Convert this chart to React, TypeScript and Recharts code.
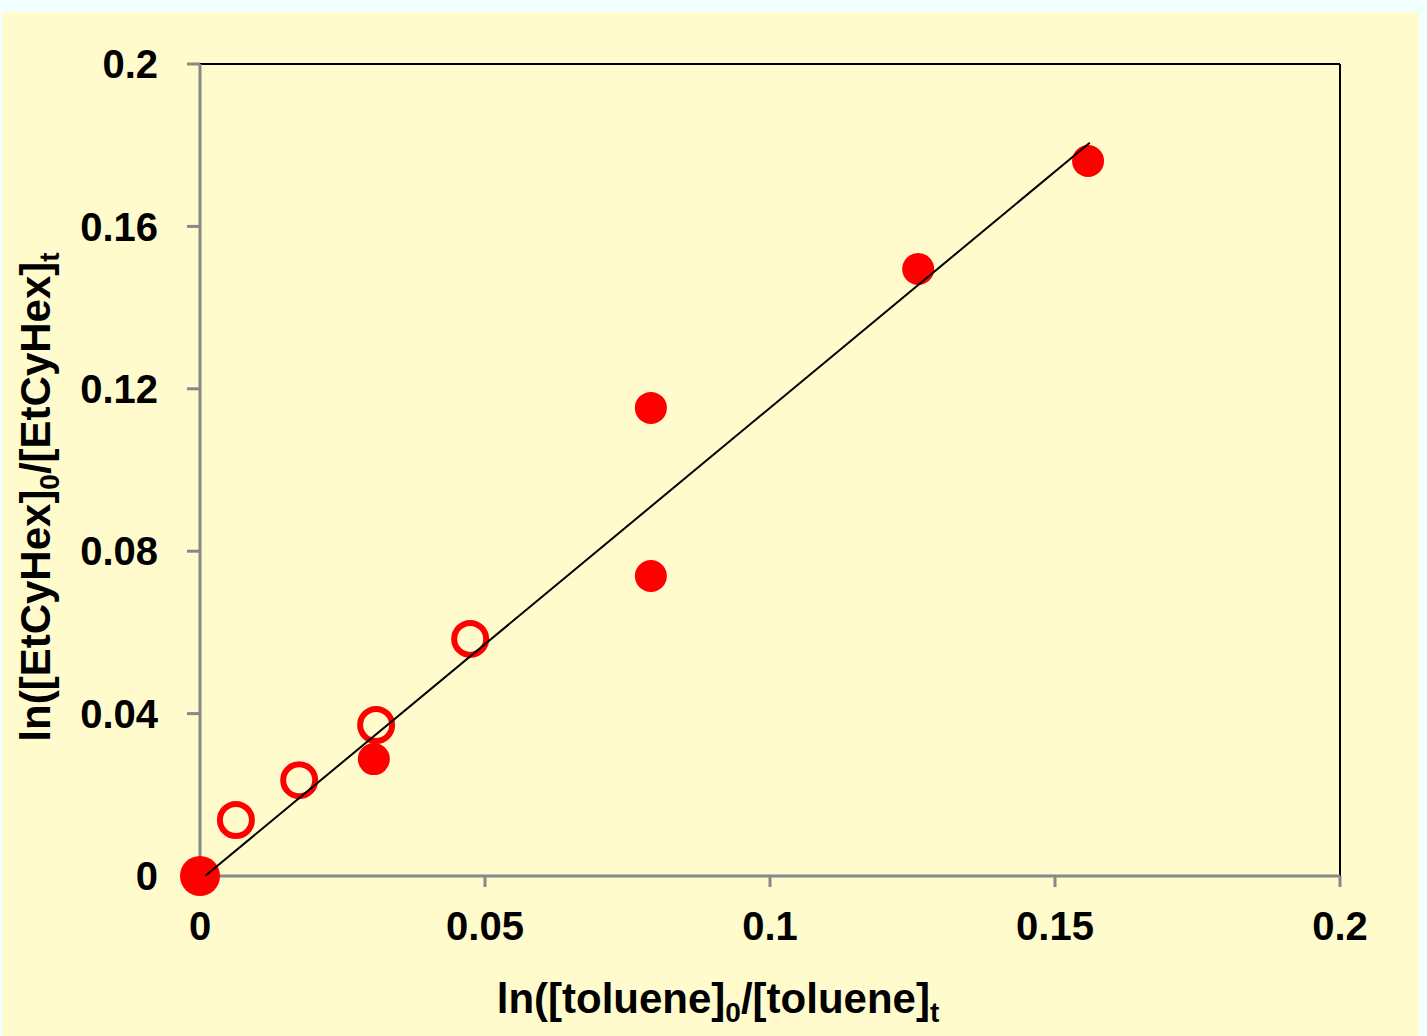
import React from 'react'
import { ScatterChart, Scatter, XAxis, YAxis, ReferenceLine } from 'recharts'

// filled circles (solid red)
const filledX = [0.0305, 0.0791, 0.0791, 0.126, 0.1558]
const filledY = [0.0288, 0.1153, 0.0739, 0.1495, 0.1761]

// the origin point, drawn larger
const originX = [0]
const originY = [0]

// open circles (red rings)
const openX = [0.0063, 0.0174, 0.0309, 0.0474]
const openY = [0.0138, 0.0236, 0.0372, 0.0584]

// linear fit, drawn between its two end points
const trendX = [0.001, 0.1561]
const trendY = [0.0001, 0.1806]

const xTicks = [0, 0.05, 0.1, 0.15, 0.2]
const yTicks = [0, 0.04, 0.08, 0.12, 0.16, 0.2]

const zip = (xs: number[], ys: number[]) => xs.map((x, i) => ({ x, y: ys[i] }))

const filledData = zip(filledX, filledY)
const originData = zip(originX, originY)
const openData = zip(openX, openY)
const trendData = zip(trendX, trendY)

const RED = '#FF0000'
const AXIS = '#888888'
const FONT = '"Liberation Sans", Arial, sans-serif'

const FilledDot = (props: any) => <circle cx={props.cx} cy={props.cy} r={16} fill={RED} />
const OriginDot = (props: any) => <circle cx={props.cx} cy={props.cy} r={20} fill={RED} />
const OpenDot = (props: any) => (
  <circle cx={props.cx} cy={props.cy} r={16} fill="none" stroke={RED} strokeWidth={6} />
)
const NoDot = () => null

function XTitle(props: any) {
  const vb = props.viewBox || {}
  const cx = vb.x + vb.width / 2 - 52
  const y = vb.y + 137
  return (
    <text x={cx} y={y} textAnchor="middle" fontFamily={FONT} fontWeight="bold" fontSize={42} fill="#000">
      <tspan>ln([toluene]</tspan>
      <tspan dy={9} fontSize={28}>0</tspan>
      <tspan dy={-9}>/[toluene]</tspan>
      <tspan dy={9} fontSize={28}>t</tspan>
    </text>
  )
}

function YTitle(props: any) {
  const vb = props.viewBox || {}
  const x = vb.x + 48
  const cy = vb.y + vb.height / 2 + 27
  return (
    <text
      x={x}
      y={cy}
      transform={`rotate(-90 ${x} ${cy})`}
      textAnchor="middle"
      fontFamily={FONT}
      fontWeight="bold"
      fontSize={42}
      fill="#000"
    >
      <tspan>ln([EtCyHex]</tspan>
      <tspan dy={9} fontSize={28}>0</tspan>
      <tspan dy={-9}>/[EtCyHex]</tspan>
      <tspan dy={9} fontSize={28}>t</tspan>
    </text>
  )
}

export default function App() {
  return (
    <div
      style={{
        position: 'absolute',
        left: 0,
        top: 0,
        width: 1427,
        height: 1036,
        background: '#F0FFFF',
        overflow: 'hidden',
      }}
    >
      <div style={{ position: 'absolute', left: 2, top: 12, width: 1417, height: 1024, background: '#FFFBCC' }}>
        <ScatterChart width={1417} height={1024} margin={{ top: 52, right: 79, left: 0, bottom: 60 }}>
          <XAxis
            type="number"
            dataKey="x"
            domain={[0, 0.2]}
            ticks={xTicks}
            height={100}
            tickSize={11}
            tickMargin={25}
            axisLine={{ stroke: AXIS, strokeWidth: 3 }}
            tickLine={{ stroke: AXIS, strokeWidth: 3 }}
            tick={{ fill: '#000', fontSize: 40, fontWeight: 'bold', fontFamily: FONT }}
            label={<XTitle />}
          />
          <YAxis
            type="number"
            dataKey="y"
            domain={[0, 0.2]}
            ticks={yTicks}
            width={198}
            tickSize={13}
            tickMargin={29}
            axisLine={{ stroke: AXIS, strokeWidth: 3 }}
            tickLine={{ stroke: AXIS, strokeWidth: 3 }}
            tick={{ fill: '#000', fontSize: 40, fontWeight: 'bold', fontFamily: FONT }}
            label={<YTitle />}
          />
          <ReferenceLine y={0.2} stroke="#000" strokeWidth={2} />
          <ReferenceLine x={0.2} stroke="#000" strokeWidth={2} />
          <Scatter data={openData} shape={OpenDot} isAnimationActive={false} />
          <Scatter data={filledData} shape={FilledDot} isAnimationActive={false} />
          <Scatter data={originData} shape={OriginDot} isAnimationActive={false} />
          <Scatter
            data={trendData}
            shape={NoDot}
            line={{ stroke: '#000', strokeWidth: 2 }}
            isAnimationActive={false}
          />
        </ScatterChart>
      </div>
    </div>
  )
}
